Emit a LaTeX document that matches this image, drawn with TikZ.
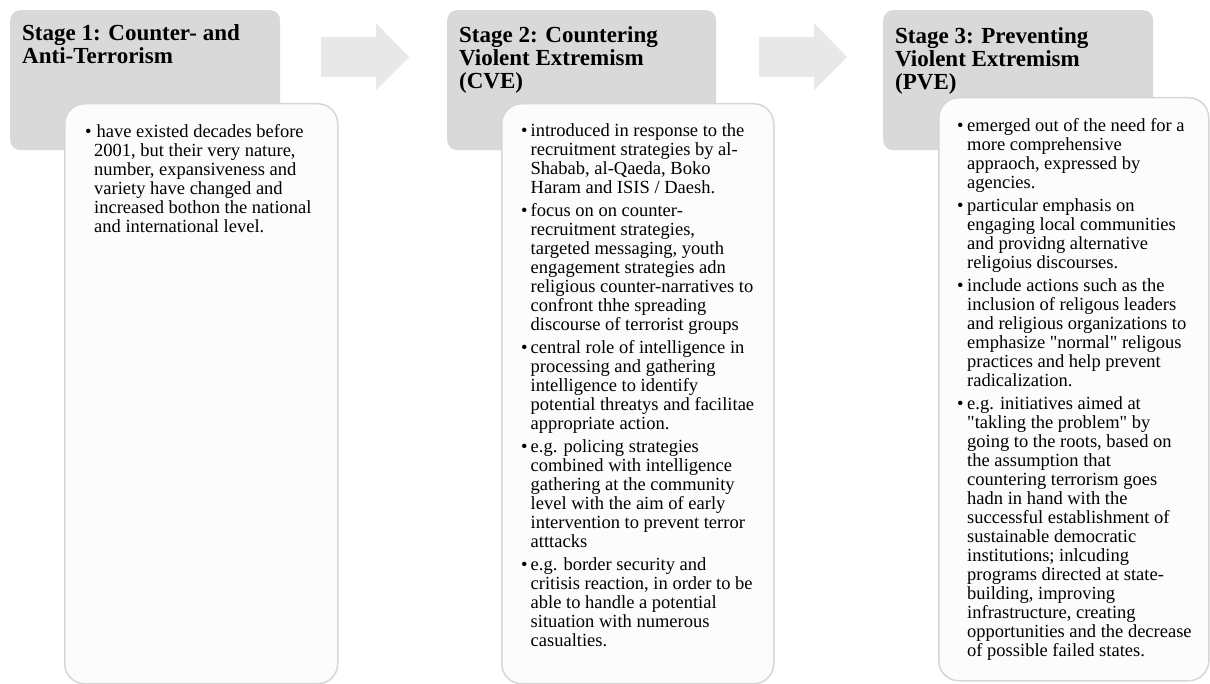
\documentclass[tikz,border=0pt]{standalone}
\usepackage{fontspec}
\setmainfont{Liberation Serif}
\usepackage{array}
\usetikzlibrary{positioning}
\definecolor{headgray}{RGB}{217,217,217}
\definecolor{arrowgray}{RGB}{232,232,232}
\definecolor{boxfill}{RGB}{252,252,252}
\definecolor{boxline}{RGB}{214,214,214}

\begin{document}
\begin{tikzpicture}[
    x=1pt, y=-1pt,
    headbox/.style={rectangle, rounded corners=10pt, fill=headgray, inner sep=0pt, anchor=north west, minimum height=140pt},
    textbox/.style={rectangle, rounded corners=20pt, draw=boxline, line width=1.5pt, fill=boxfill, inner sep=0pt, anchor=north west},
    headtext/.style={anchor=base west, inner sep=0pt, font=\fontsize{23}{23}\selectfont\bfseries},
    bodytext/.style={anchor=base west, inner sep=0pt, font=\fontsize{18.5}{19}\selectfont},
    blockarrow/.style={fill=arrowgray}
]
    \useasboundingbox (0,0) rectangle (1210,684);

    \node[headbox, minimum width=270pt] (head1) at (10,10) {};
    \node[headbox, minimum width=269pt] (head2) at (447,10) {};
    \node[headbox, minimum width=270pt] (head3) at (883,10) {};

    \foreach \ax in {321,759}
        \fill[blockarrow] (\ax,37) -- ++(55,0) -- ++(0,-14) -- ++(33,34) -- ++(-33,33) -- ++(0,-13) -- ++(-55,0) -- cycle;

    \node[headtext] (title1) at (22,41) {\begin{tabular}[t]{@{}l@{}}Stage 1: Counter- and\\Anti-Terrorism\end{tabular}};
    \node[headtext] (title2) at (459,43) {\begin{tabular}[t]{@{}l@{}}Stage 2: Countering\\Violent Extremism\\(CVE)\end{tabular}};
    \node[headtext] (title3) at (895,44) {\begin{tabular}[t]{@{}l@{}}Stage 3: Preventing\\Violent Extremism\\(PVE)\end{tabular}};

    \node[textbox, minimum width=273pt, minimum height=580pt] (body1) at (64,103) {};
    \node[textbox, minimum width=272pt, minimum height=580pt] (body2) at (501,103) {};
    \node[textbox, minimum width=270pt, minimum height=583pt] (body3) at (938,97) {};

    \node[bodytext] (list1) at (85,138) {\begin{tabular}[t]{@{}p{9pt}@{}l@{}}
        \textbullet & \hspace{2.5pt}have existed decades before\\
        & 2001, but their very nature,\\
        & number, expansiveness and\\
        & variety have changed and\\
        & increased bothon the national\\
        & and international level.
    \end{tabular}};

    \node[bodytext] (list2) at (521,137) {\begin{tabular}[t]{@{}p{9.5pt}@{}l@{}}
        \textbullet & introduced in response to the\\
        & recruitment strategies by al-\\
        & Shabab, al-Qaeda, Boko\\
        & Haram and ISIS / Daesh.\\[4pt]
        \textbullet & focus on on counter-\\
        & recruitment strategies,\\
        & targeted messaging, youth\\
        & engagement strategies adn\\
        & religious counter-narratives to\\
        & confront thhe spreading\\
        & discourse of terrorist groups\\[4pt]
        \textbullet & central role of intelligence in\\
        & processing and gathering\\
        & intelligence to identify\\
        & potential threatys and facilitae\\
        & appropriate action.\\[4pt]
        \textbullet & e.g. policing strategies\\
        & combined with intelligence\\
        & gathering at the community\\
        & level with the aim of early\\
        & intervention to prevent terror\\
        & atttacks\\[4pt]
        \textbullet & e.g. border security and\\
        & critisis reaction, in order to be\\
        & able to handle a potential\\
        & situation with numerous\\
        & casualties.
    \end{tabular}};

    \node[bodytext] (list3) at (957,132) {\begin{tabular}[t]{@{}p{10pt}@{}l@{}}
        \textbullet & emerged out of the need for a\\
        & more comprehensive\\
        & appraoch, expressed by\\
        & agencies.\\[4pt]
        \textbullet & particular emphasis on\\
        & engaging local communities\\
        & and providng alternative\\
        & religoius discourses.\\[4pt]
        \textbullet & include actions such as the\\
        & inclusion of religous leaders\\
        & and religious organizations to\\
        & emphasize \textquotedbl normal\textquotedbl{} religous\\
        & practices and help prevent\\
        & radicalization.\\[4pt]
        \textbullet & e.g. initiatives aimed at\\
        & \textquotedbl takling the problem\textquotedbl{} by\\
        & going to the roots, based on\\
        & the assumption that\\
        & countering terrorism goes\\
        & hadn in hand with the\\
        & successful establishment of\\
        & sustainable democratic\\
        & institutions; inlcuding\\
        & programs directed at state-\\
        & building, improving\\
        & infrastructure, creating\\
        & opportunities and the decrease\\
        & of possible failed states.
    \end{tabular}};
\end{tikzpicture}
\end{document}
